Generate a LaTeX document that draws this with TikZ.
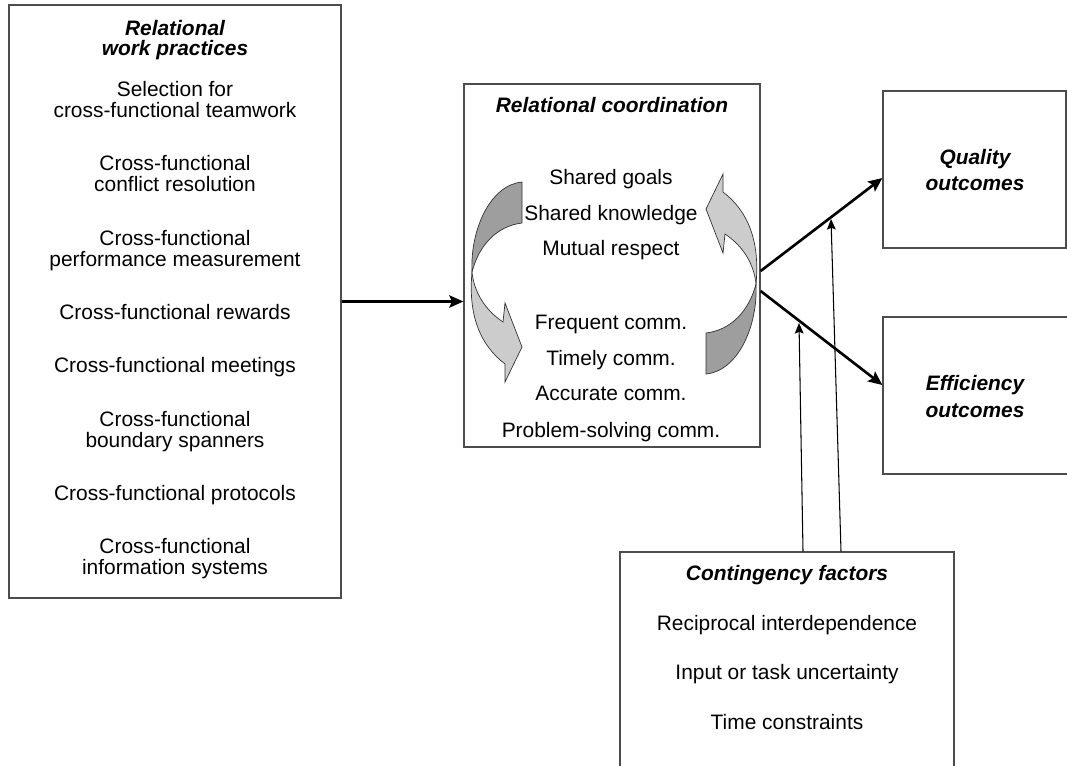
\documentclass[tikz,border=0pt]{standalone}
\usepackage{fontspec}
\setmainfont{Liberation Sans}
\usetikzlibrary{arrows.meta,fit,calc}
\definecolor{framegray}{gray}{0.3}
\definecolor{darkface}{gray}{0.62}
\definecolor{lightface}{gray}{0.80}
% one curved block arrow, drawn at the left of the coordination box
\newcommand{\cyclearrow}{%
\filldraw[face,fill=darkface] (522,182) -- (522,223) .. controls (497,226) and (479,245) .. (472,272)
  .. controls (470,230) and (490,185) .. cycle;
\filldraw[face,fill=lightface] (472,272) .. controls (468,315) and (480,345) .. (505,364) -- (505,382)
  -- (522,347) -- (505,303) -- (503,322) .. controls (485,310) and (474,292) .. cycle;}
\begin{document}
\begin{tikzpicture}[x=0.02cm,y=-0.02cm,
  box/.style={draw=framegray,line width=0.7pt,inner sep=0pt},
  txt/.style={anchor=base,inner sep=0pt,font=\fontsize{11.9}{14}\selectfont},
  boxtitle/.style={txt,font=\fontsize{11.9}{14}\selectfont\bfseries\itshape},
  link/.style={line width=1.5pt,-{Stealth[length=8pt,width=7pt,inset=1.5pt]}},
  moderator/.style={line width=0.6pt,-{Stealth[length=6pt,width=5pt,inset=1pt]}},
  face/.style={draw=black!80,line width=0.4pt}]
\clip (0,0) rectangle (1067,765);
% boxes
\node[box,fit={(9,5) (341,598)}] (wp) {};
\node[box,fit={(464,84) (760,447)}] (rc) {};
\node[box,fit={(883,91) (1066,248)}] (qo) {};
\node[box,fit={(883,317) (1100,474)}] (eo) {};
\node[box,fit={(620,552) (954,800)}] (cf) {};
% relational work practices
\node[boxtitle] (wpt1) at (175,35) {Relational};
\node[boxtitle] (wpt2) at (175,55) {work practices};
\node[txt] (wp1) at (175,96) {Selection for};
\node[txt] (wp1b) at (175,117) {cross-functional teamwork};
\node[txt] (wp2) at (175,170) {Cross-functional};
\node[txt] (wp2b) at (175,191) {conflict resolution};
\node[txt] (wp3) at (175,245) {Cross-functional};
\node[txt] (wp3b) at (175,266) {performance measurement};
\node[txt] (wp4) at (175,319) {Cross-functional rewards};
\node[txt] (wp5) at (175,372) {Cross-functional meetings};
\node[txt] (wp6) at (175,426) {Cross-functional};
\node[txt] (wp6b) at (175,447) {boundary spanners};
\node[txt] (wp7) at (175,500) {Cross-functional protocols};
\node[txt] (wp8) at (175,553) {Cross-functional};
\node[txt] (wp8b) at (175,574) {information systems};
% relational coordination
\node[boxtitle] (rct) at (612,112) {Relational coordination};
\node[txt] (rc1) at (611,184) {Shared goals};
\node[txt] (rc2) at (611,220) {Shared knowledge};
\node[txt] (rc3) at (611,255) {Mutual respect};
\node[txt] (rc4) at (611,329) {Frequent comm.};
\node[txt] (rc5) at (611,365) {Timely comm.};
\node[txt] (rc6) at (611,400) {Accurate comm.};
\node[txt] (rc7) at (611,437) {Problem-solving comm.};
% curved arrows
\cyclearrow
\begin{scope}[rotate around={180:(614,278)}]
\cyclearrow
\end{scope}
% outcomes
\node[boxtitle] (qot1) at (975,164) {Quality};
\node[boxtitle] (qot2) at (975,190) {outcomes};
\node[boxtitle] (eot1) at (975,390) {Efficiency};
\node[boxtitle] (eot2) at (975,417) {outcomes};
% contingency factors
\node[boxtitle] (cft) at (787,580) {Contingency factors};
\node[txt] (cf1) at (787,630) {Reciprocal interdependence};
\node[txt] (cf2) at (787,679) {Input or task uncertainty};
\node[txt] (cf3) at (787,729) {Time constraints};
% arrows
\draw[link] (wp.east) -- (rc.west |- wp.east);
\draw[link] ($(rc.east)+(0,5.5)$) -- ($(qo.west)+(0,8.5)$);
\draw[link] ($(rc.east)+(0,25.5)$) -- ($(eo.west)+(0,-10.5)$);
\coordinate (tipA) at (799,323);
\coordinate (tipB) at (831,219);
\draw[moderator] ($(cf.north)+(16,0)$) -- (tipA);
\draw[moderator] ($(cf.north)+(54,0)$) -- (tipB);
\end{tikzpicture}
\end{document}
